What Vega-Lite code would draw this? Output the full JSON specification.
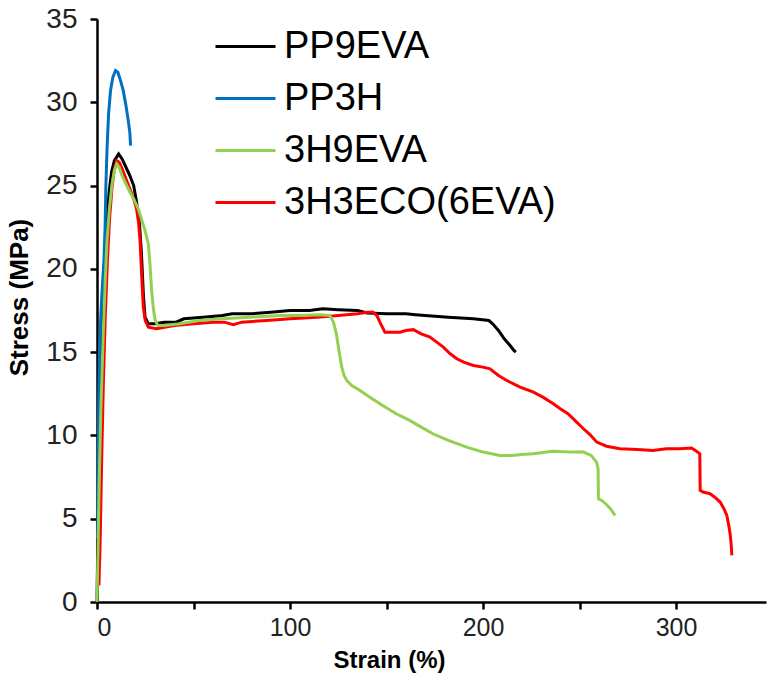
{
  "$schema": "https://vega.github.io/schema/vega-lite/v6.json",
  "width": 669,
  "height": 583,
  "autosize": {"type": "none"},
  "padding": {"left": 97, "top": 19, "right": 2, "bottom": 81},
  "background": "white",
  "config": {
    "view": {"stroke": null},
    "font": "Liberation Sans",
    "axis": {
      "grid": false,
      "domainColor": "black",
      "domainWidth": 2.5,
      "tickColor": "black",
      "tickWidth": 2.5,
      "tickSize": 7,
      "labelFont": "Liberation Sans",
      "labelColor": "#222222",
      "titleFont": "Liberation Sans",
      "titleFontWeight": "bold",
      "titleColor": "black"
    }
  },
  "data": {
    "values": [
      {"series": "PP9EVA", "strain": 0, "stress": 0},
      {"series": "PP9EVA", "strain": 0.5, "stress": 4.5},
      {"series": "PP9EVA", "strain": 1.2, "stress": 9},
      {"series": "PP9EVA", "strain": 2, "stress": 13},
      {"series": "PP9EVA", "strain": 3, "stress": 16.8},
      {"series": "PP9EVA", "strain": 4, "stress": 20},
      {"series": "PP9EVA", "strain": 5, "stress": 22.5},
      {"series": "PP9EVA", "strain": 6.2, "stress": 24.5},
      {"series": "PP9EVA", "strain": 7.5, "stress": 25.8},
      {"series": "PP9EVA", "strain": 9, "stress": 26.5},
      {"series": "PP9EVA", "strain": 11.2, "stress": 26.9},
      {"series": "PP9EVA", "strain": 13, "stress": 26.6},
      {"series": "PP9EVA", "strain": 15, "stress": 26.1},
      {"series": "PP9EVA", "strain": 17, "stress": 25.6},
      {"series": "PP9EVA", "strain": 19, "stress": 25.0},
      {"series": "PP9EVA", "strain": 20.5, "stress": 24},
      {"series": "PP9EVA", "strain": 22, "stress": 22.7},
      {"series": "PP9EVA", "strain": 23, "stress": 21},
      {"series": "PP9EVA", "strain": 23.6, "stress": 19.5},
      {"series": "PP9EVA", "strain": 24.1, "stress": 18.3},
      {"series": "PP9EVA", "strain": 24.9, "stress": 17.1},
      {"series": "PP9EVA", "strain": 26.6, "stress": 16.7},
      {"series": "PP9EVA", "strain": 30, "stress": 16.7},
      {"series": "PP9EVA", "strain": 35, "stress": 16.8},
      {"series": "PP9EVA", "strain": 41, "stress": 16.8},
      {"series": "PP9EVA", "strain": 45, "stress": 17.0},
      {"series": "PP9EVA", "strain": 55, "stress": 17.1},
      {"series": "PP9EVA", "strain": 65, "stress": 17.2},
      {"series": "PP9EVA", "strain": 70, "stress": 17.3},
      {"series": "PP9EVA", "strain": 80, "stress": 17.3},
      {"series": "PP9EVA", "strain": 90, "stress": 17.4},
      {"series": "PP9EVA", "strain": 100, "stress": 17.5},
      {"series": "PP9EVA", "strain": 110, "stress": 17.5},
      {"series": "PP9EVA", "strain": 117, "stress": 17.6},
      {"series": "PP9EVA", "strain": 125, "stress": 17.55},
      {"series": "PP9EVA", "strain": 135, "stress": 17.5},
      {"series": "PP9EVA", "strain": 140, "stress": 17.35},
      {"series": "PP9EVA", "strain": 150, "stress": 17.3},
      {"series": "PP9EVA", "strain": 160, "stress": 17.3},
      {"series": "PP9EVA", "strain": 165, "stress": 17.25},
      {"series": "PP9EVA", "strain": 170, "stress": 17.2},
      {"series": "PP9EVA", "strain": 182, "stress": 17.1},
      {"series": "PP9EVA", "strain": 195, "stress": 17.0},
      {"series": "PP9EVA", "strain": 203, "stress": 16.9},
      {"series": "PP9EVA", "strain": 205, "stress": 16.7},
      {"series": "PP9EVA", "strain": 208, "stress": 16.3},
      {"series": "PP9EVA", "strain": 211, "stress": 15.8},
      {"series": "PP9EVA", "strain": 214, "stress": 15.4},
      {"series": "PP9EVA", "strain": 216, "stress": 15.1},
      {"series": "PP9EVA", "strain": 217, "stress": 15.0},

      {"series": "PP3H", "strain": 0.3, "stress": 3.8},
      {"series": "PP3H", "strain": 0.6, "stress": 8.5},
      {"series": "PP3H", "strain": 0.9, "stress": 12},
      {"series": "PP3H", "strain": 1.3, "stress": 15},
      {"series": "PP3H", "strain": 2, "stress": 17.3},
      {"series": "PP3H", "strain": 2.8, "stress": 19},
      {"series": "PP3H", "strain": 3.6, "stress": 20.5},
      {"series": "PP3H", "strain": 4.2, "stress": 22.5},
      {"series": "PP3H", "strain": 4.6, "stress": 25},
      {"series": "PP3H", "strain": 5.2, "stress": 27.2},
      {"series": "PP3H", "strain": 6, "stress": 29.3},
      {"series": "PP3H", "strain": 7, "stress": 30.7},
      {"series": "PP3H", "strain": 8.2, "stress": 31.5},
      {"series": "PP3H", "strain": 9.6, "stress": 31.9},
      {"series": "PP3H", "strain": 10.8, "stress": 31.8},
      {"series": "PP3H", "strain": 12.2, "stress": 31.3},
      {"series": "PP3H", "strain": 13.6, "stress": 30.7},
      {"series": "PP3H", "strain": 15, "stress": 29.8},
      {"series": "PP3H", "strain": 16.2, "stress": 28.9},
      {"series": "PP3H", "strain": 17, "stress": 28.2},
      {"series": "PP3H", "strain": 17.4, "stress": 27.4},

      {"series": "3H9EVA", "strain": 0, "stress": 0},
      {"series": "3H9EVA", "strain": 0.5, "stress": 3},
      {"series": "3H9EVA", "strain": 1.2, "stress": 7.5},
      {"series": "3H9EVA", "strain": 2, "stress": 11.5},
      {"series": "3H9EVA", "strain": 2.8, "stress": 14.5},
      {"series": "3H9EVA", "strain": 3.3, "stress": 16.3},
      {"series": "3H9EVA", "strain": 4.2, "stress": 19.2},
      {"series": "3H9EVA", "strain": 5.2, "stress": 21.7},
      {"series": "3H9EVA", "strain": 6.4, "stress": 23.6},
      {"series": "3H9EVA", "strain": 7.8, "stress": 25.1},
      {"series": "3H9EVA", "strain": 9, "stress": 25.9},
      {"series": "3H9EVA", "strain": 10.2, "stress": 26.3},
      {"series": "3H9EVA", "strain": 11.5, "stress": 26.1},
      {"series": "3H9EVA", "strain": 13, "stress": 25.6},
      {"series": "3H9EVA", "strain": 15, "stress": 25.1},
      {"series": "3H9EVA", "strain": 17.1, "stress": 24.6},
      {"series": "3H9EVA", "strain": 19, "stress": 24.2},
      {"series": "3H9EVA", "strain": 21.4, "stress": 23.6},
      {"series": "3H9EVA", "strain": 23, "stress": 23.0},
      {"series": "3H9EVA", "strain": 24.9, "stress": 22.3},
      {"series": "3H9EVA", "strain": 26.6, "stress": 21.5},
      {"series": "3H9EVA", "strain": 27.5, "stress": 20.2},
      {"series": "3H9EVA", "strain": 28.3, "stress": 18.7},
      {"series": "3H9EVA", "strain": 29.2, "stress": 17.6},
      {"series": "3H9EVA", "strain": 30.2, "stress": 16.9},
      {"series": "3H9EVA", "strain": 31.5, "stress": 16.6},
      {"series": "3H9EVA", "strain": 35, "stress": 16.6},
      {"series": "3H9EVA", "strain": 43, "stress": 16.7},
      {"series": "3H9EVA", "strain": 53, "stress": 16.9},
      {"series": "3H9EVA", "strain": 65, "stress": 17.0},
      {"series": "3H9EVA", "strain": 79, "stress": 17.1},
      {"series": "3H9EVA", "strain": 95, "stress": 17.2},
      {"series": "3H9EVA", "strain": 105, "stress": 17.2},
      {"series": "3H9EVA", "strain": 115, "stress": 17.25},
      {"series": "3H9EVA", "strain": 120.7, "stress": 17.2},
      {"series": "3H9EVA", "strain": 122.5, "stress": 16.8},
      {"series": "3H9EVA", "strain": 124, "stress": 16.1},
      {"series": "3H9EVA", "strain": 125.5, "stress": 15.0},
      {"series": "3H9EVA", "strain": 126.8, "stress": 14.1},
      {"series": "3H9EVA", "strain": 128, "stress": 13.6},
      {"series": "3H9EVA", "strain": 129.4, "stress": 13.3},
      {"series": "3H9EVA", "strain": 132, "stress": 13.0},
      {"series": "3H9EVA", "strain": 136.3, "stress": 12.7},
      {"series": "3H9EVA", "strain": 140, "stress": 12.4},
      {"series": "3H9EVA", "strain": 148, "stress": 11.8},
      {"series": "3H9EVA", "strain": 155, "stress": 11.3},
      {"series": "3H9EVA", "strain": 162, "stress": 10.9},
      {"series": "3H9EVA", "strain": 168, "stress": 10.5},
      {"series": "3H9EVA", "strain": 174, "stress": 10.1},
      {"series": "3H9EVA", "strain": 182, "stress": 9.7},
      {"series": "3H9EVA", "strain": 191.5, "stress": 9.3},
      {"series": "3H9EVA", "strain": 200, "stress": 9.0},
      {"series": "3H9EVA", "strain": 208.8, "stress": 8.8},
      {"series": "3H9EVA", "strain": 215, "stress": 8.8},
      {"series": "3H9EVA", "strain": 220, "stress": 8.85},
      {"series": "3H9EVA", "strain": 226, "stress": 8.9},
      {"series": "3H9EVA", "strain": 236, "stress": 9.05},
      {"series": "3H9EVA", "strain": 245, "stress": 9.0},
      {"series": "3H9EVA", "strain": 252, "stress": 9.0},
      {"series": "3H9EVA", "strain": 256, "stress": 8.8},
      {"series": "3H9EVA", "strain": 258.8, "stress": 8.4},
      {"series": "3H9EVA", "strain": 259.6, "stress": 8.0},
      {"series": "3H9EVA", "strain": 259.8, "stress": 6.2},
      {"series": "3H9EVA", "strain": 261.5, "stress": 6.1},
      {"series": "3H9EVA", "strain": 263.5, "stress": 5.9},
      {"series": "3H9EVA", "strain": 266, "stress": 5.6},
      {"series": "3H9EVA", "strain": 268.4, "stress": 5.2},

      {"series": "3H3ECO(6EVA)", "strain": 1.0, "stress": 1.0},
      {"series": "3H3ECO(6EVA)", "strain": 1.6, "stress": 3.5},
      {"series": "3H3ECO(6EVA)", "strain": 2.4, "stress": 8.4},
      {"series": "3H3ECO(6EVA)", "strain": 3.3, "stress": 13.2},
      {"series": "3H3ECO(6EVA)", "strain": 4.3, "stress": 17.2},
      {"series": "3H3ECO(6EVA)", "strain": 5.4, "stress": 20.5},
      {"series": "3H3ECO(6EVA)", "strain": 6.5, "stress": 23},
      {"series": "3H3ECO(6EVA)", "strain": 7.8, "stress": 24.9},
      {"series": "3H3ECO(6EVA)", "strain": 9, "stress": 26},
      {"series": "3H3ECO(6EVA)", "strain": 10.2, "stress": 26.5},
      {"series": "3H3ECO(6EVA)", "strain": 11.5, "stress": 26.4},
      {"series": "3H3ECO(6EVA)", "strain": 13, "stress": 26},
      {"series": "3H3ECO(6EVA)", "strain": 15, "stress": 25.4},
      {"series": "3H3ECO(6EVA)", "strain": 17, "stress": 24.8},
      {"series": "3H3ECO(6EVA)", "strain": 19, "stress": 24.2},
      {"series": "3H3ECO(6EVA)", "strain": 20.5, "stress": 23.6},
      {"series": "3H3ECO(6EVA)", "strain": 21.5, "stress": 22.8},
      {"series": "3H3ECO(6EVA)", "strain": 22.3, "stress": 21.7},
      {"series": "3H3ECO(6EVA)", "strain": 23.1, "stress": 19.7},
      {"series": "3H3ECO(6EVA)", "strain": 24, "stress": 17.7},
      {"series": "3H3ECO(6EVA)", "strain": 25, "stress": 16.9},
      {"series": "3H3ECO(6EVA)", "strain": 26.6, "stress": 16.5},
      {"series": "3H3ECO(6EVA)", "strain": 30.9, "stress": 16.4},
      {"series": "3H3ECO(6EVA)", "strain": 40, "stress": 16.6},
      {"series": "3H3ECO(6EVA)", "strain": 50, "stress": 16.7},
      {"series": "3H3ECO(6EVA)", "strain": 60, "stress": 16.8},
      {"series": "3H3ECO(6EVA)", "strain": 66, "stress": 16.8},
      {"series": "3H3ECO(6EVA)", "strain": 70.6, "stress": 16.65},
      {"series": "3H3ECO(6EVA)", "strain": 75, "stress": 16.8},
      {"series": "3H3ECO(6EVA)", "strain": 88, "stress": 16.9},
      {"series": "3H3ECO(6EVA)", "strain": 100, "stress": 17.0},
      {"series": "3H3ECO(6EVA)", "strain": 114, "stress": 17.1},
      {"series": "3H3ECO(6EVA)", "strain": 125, "stress": 17.2},
      {"series": "3H3ECO(6EVA)", "strain": 135, "stress": 17.3},
      {"series": "3H3ECO(6EVA)", "strain": 140, "stress": 17.4},
      {"series": "3H3ECO(6EVA)", "strain": 143, "stress": 17.4},
      {"series": "3H3ECO(6EVA)", "strain": 145, "stress": 17.2},
      {"series": "3H3ECO(6EVA)", "strain": 147, "stress": 16.7},
      {"series": "3H3ECO(6EVA)", "strain": 149.2, "stress": 16.2},
      {"series": "3H3ECO(6EVA)", "strain": 157, "stress": 16.2},
      {"series": "3H3ECO(6EVA)", "strain": 160, "stress": 16.3},
      {"series": "3H3ECO(6EVA)", "strain": 163.9, "stress": 16.35},
      {"series": "3H3ECO(6EVA)", "strain": 168, "stress": 16.1},
      {"series": "3H3ECO(6EVA)", "strain": 172.5, "stress": 15.9},
      {"series": "3H3ECO(6EVA)", "strain": 176, "stress": 15.6},
      {"series": "3H3ECO(6EVA)", "strain": 179.4, "stress": 15.3},
      {"series": "3H3ECO(6EVA)", "strain": 183, "stress": 14.9},
      {"series": "3H3ECO(6EVA)", "strain": 186.4, "stress": 14.6},
      {"series": "3H3ECO(6EVA)", "strain": 190, "stress": 14.4},
      {"series": "3H3ECO(6EVA)", "strain": 195, "stress": 14.2},
      {"series": "3H3ECO(6EVA)", "strain": 200, "stress": 14.1},
      {"series": "3H3ECO(6EVA)", "strain": 203.6, "stress": 14.0},
      {"series": "3H3ECO(6EVA)", "strain": 208, "stress": 13.6},
      {"series": "3H3ECO(6EVA)", "strain": 212.3, "stress": 13.3},
      {"series": "3H3ECO(6EVA)", "strain": 219.2, "stress": 12.9},
      {"series": "3H3ECO(6EVA)", "strain": 226.1, "stress": 12.6},
      {"series": "3H3ECO(6EVA)", "strain": 231, "stress": 12.3},
      {"series": "3H3ECO(6EVA)", "strain": 236.4, "stress": 11.9},
      {"series": "3H3ECO(6EVA)", "strain": 240, "stress": 11.6},
      {"series": "3H3ECO(6EVA)", "strain": 244, "stress": 11.3},
      {"series": "3H3ECO(6EVA)", "strain": 248.5, "stress": 10.8},
      {"series": "3H3ECO(6EVA)", "strain": 252, "stress": 10.4},
      {"series": "3H3ECO(6EVA)", "strain": 255, "stress": 10.1},
      {"series": "3H3ECO(6EVA)", "strain": 258.9, "stress": 9.6},
      {"series": "3H3ECO(6EVA)", "strain": 264, "stress": 9.35},
      {"series": "3H3ECO(6EVA)", "strain": 271, "stress": 9.2},
      {"series": "3H3ECO(6EVA)", "strain": 280, "stress": 9.15},
      {"series": "3H3ECO(6EVA)", "strain": 288, "stress": 9.1},
      {"series": "3H3ECO(6EVA)", "strain": 295, "stress": 9.2},
      {"series": "3H3ECO(6EVA)", "strain": 302, "stress": 9.2},
      {"series": "3H3ECO(6EVA)", "strain": 308, "stress": 9.25},
      {"series": "3H3ECO(6EVA)", "strain": 310, "stress": 9.1},
      {"series": "3H3ECO(6EVA)", "strain": 312.3, "stress": 8.9},
      {"series": "3H3ECO(6EVA)", "strain": 312.5, "stress": 6.7},
      {"series": "3H3ECO(6EVA)", "strain": 314, "stress": 6.6},
      {"series": "3H3ECO(6EVA)", "strain": 317.6, "stress": 6.5},
      {"series": "3H3ECO(6EVA)", "strain": 320.5, "stress": 6.25},
      {"series": "3H3ECO(6EVA)", "strain": 322.8, "stress": 6.0},
      {"series": "3H3ECO(6EVA)", "strain": 324.8, "stress": 5.6},
      {"series": "3H3ECO(6EVA)", "strain": 326.3, "stress": 5.2},
      {"series": "3H3ECO(6EVA)", "strain": 327.3, "stress": 4.6},
      {"series": "3H3ECO(6EVA)", "strain": 328, "stress": 4.1},
      {"series": "3H3ECO(6EVA)", "strain": 328.6, "stress": 3.4},
      {"series": "3H3ECO(6EVA)", "strain": 328.9, "stress": 2.8}
    ]
  },
  "encoding": {
    "x": {
      "field": "strain",
      "type": "quantitative",
      "scale": {"domain": [0, 346.6], "nice": false, "zero": false},
      "axis": {
        "title": "Strain (%)",
        "values": [0, 50, 100, 150, 200, 250, 300],
        "labelExpr": "datum.value % 100 === 0 ? datum.label : ''",
        "labelFontSize": 25,
        "labelPadding": 6,
        "titleFontSize": 24,
        "titleX": 292,
        "titleY": 58,
        "titleAlign": "center",
        "titleBaseline": "middle"
      }
    },
    "y": {
      "field": "stress",
      "type": "quantitative",
      "scale": {"domain": [0, 35], "nice": false},
      "axis": {
        "title": "Stress (MPa)",
        "values": [0, 5, 10, 15, 20, 25, 30, 35],
        "labelFontSize": 28,
        "labelPadding": 13,
        "titleFontSize": 26,
        "titleX": -78,
        "titleY": 278,
        "titleAlign": "center",
        "titleBaseline": "middle"
      }
    },
    "color": {
      "field": "series",
      "type": "nominal",
      "scale": {
        "domain": ["PP9EVA", "PP3H", "3H9EVA", "3H3ECO(6EVA)"],
        "range": ["#000000", "#0070C0", "#92D050", "#FF0000"]
      },
      "legend": {
        "title": null,
        "orient": "none",
        "legendX": 117,
        "legendY": -4,
        "padding": 0,
        "symbolType": "stroke",
        "symbolSize": 3600,
        "symbolStrokeWidth": 3,
        "labelFont": "Liberation Sans",
        "labelFontSize": 38,
        "labelColor": "black",
        "labelOffset": 7,
        "rowPadding": 1,
        "labelLimit": 400
      }
    }
  },
  "layer": [
    {"transform": [{"filter": "datum.series === 'PP9EVA'"}], "mark": {"type": "line", "strokeWidth": 3}},
    {"transform": [{"filter": "datum.series === 'PP3H'"}], "mark": {"type": "line", "strokeWidth": 3}},
    {"transform": [{"filter": "datum.series === '3H3ECO(6EVA)'"}], "mark": {"type": "line", "strokeWidth": 3}},
    {"transform": [{"filter": "datum.series === '3H9EVA'"}], "mark": {"type": "line", "strokeWidth": 3}}
  ]
}
